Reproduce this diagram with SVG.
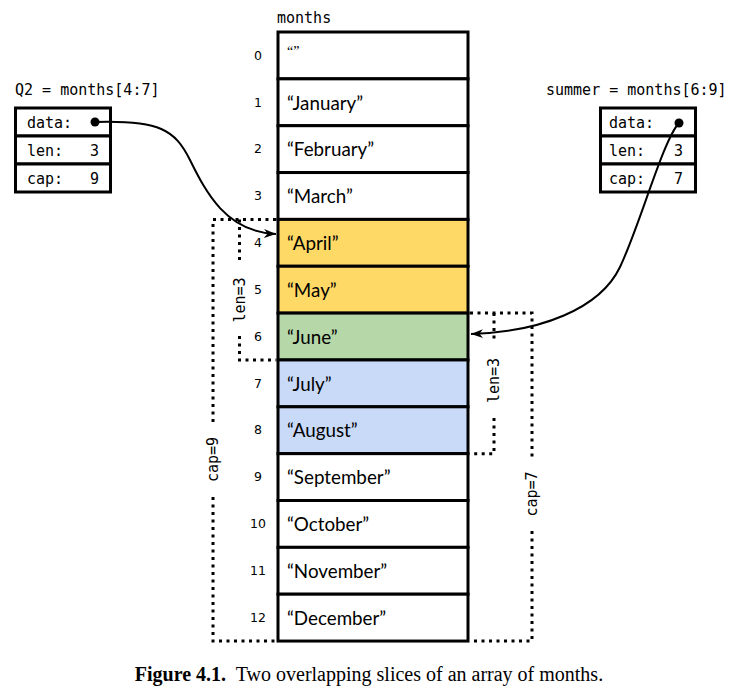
<svg xmlns="http://www.w3.org/2000/svg" width="738" height="693" viewBox="0 0 738 693">
  <style>
    .mono { font-family: "DejaVu Sans Mono", "Liberation Mono", monospace; font-size: 15px; fill: #000; }
    .idx { font-family: "DejaVu Sans", "Liberation Sans", sans-serif; font-size: 12.5px; fill: #000; text-anchor: middle; }
    .val { font-family: Lato, "Open Sans", sans-serif; font-size: 18.8px; fill: #000; }
    .empty { font-family: "Liberation Serif", "Times New Roman", serif; font-size: 14px; fill: #000; }
    .cell { stroke: #000; stroke-width: 3; }
    .plain { fill: #fff; }
    .yellow { fill: #ffd966; }
    .green { fill: #b6d7a8; }
    .blue { fill: #c9daf8; }
    .box { fill: #fff; stroke: #000; stroke-width: 3; }
    .dots { fill: none; stroke: #000; stroke-width: 3; stroke-dasharray: 3 4.5; }
    .wire { fill: none; stroke: #000; stroke-width: 2; }
    .caption { font-family: "Liberation Serif", "Times New Roman", serif; font-size: 20px; fill: #000; }
  </style>
  <defs>
    <marker id="arrow" markerUnits="userSpaceOnUse" markerWidth="14" markerHeight="10" refX="12" refY="5" orient="auto">
      <path d="M0,0.5 L12,5 L0,9.5 L3.5,5 z" fill="#000"/>
    </marker>
  </defs>

  <rect width="738" height="693" fill="#fff"/>

  <!-- array of months -->
  <g id="months">
    <text class="mono" x="277" y="23">months</text>
    <g id="cell-0"><rect class="cell plain" x="278" y="32" width="190" height="46.85"/><text class="idx" x="258" y="59.6">0</text><text class="empty" x="287" y="56">“”</text></g>
    <g id="cell-1"><rect class="cell plain" x="278" y="78.85" width="190" height="46.85"/><text class="idx" x="258" y="106.5">1</text><text class="val" x="287" y="109.5">“January”</text></g>
    <g id="cell-2"><rect class="cell plain" x="278" y="125.7" width="190" height="46.85"/><text class="idx" x="258" y="153.3">2</text><text class="val" x="287" y="156.3">“February”</text></g>
    <g id="cell-3"><rect class="cell plain" x="278" y="172.55" width="190" height="46.85"/><text class="idx" x="258" y="200.2">3</text><text class="val" x="287" y="203.2">“March”</text></g>
    <g id="cell-4"><rect class="cell yellow" x="278" y="219.4" width="190" height="46.85"/><text class="idx" x="258" y="247">4</text><text class="val" x="287" y="250">“April”</text></g>
    <g id="cell-5"><rect class="cell yellow" x="278" y="266.25" width="190" height="46.85"/><text class="idx" x="258" y="293.9">5</text><text class="val" x="287" y="296.9">“May”</text></g>
    <g id="cell-6"><rect class="cell green" x="278" y="313.1" width="190" height="46.85"/><text class="idx" x="258" y="340.7">6</text><text class="val" x="287" y="343.7">“June”</text></g>
    <g id="cell-7"><rect class="cell blue" x="278" y="359.95" width="190" height="46.85"/><text class="idx" x="258" y="387.6">7</text><text class="val" x="287" y="390.6">“July”</text></g>
    <g id="cell-8"><rect class="cell blue" x="278" y="406.8" width="190" height="46.85"/><text class="idx" x="258" y="434.4">8</text><text class="val" x="287" y="437.4">“August”</text></g>
    <g id="cell-9"><rect class="cell plain" x="278" y="453.65" width="190" height="46.85"/><text class="idx" x="258" y="481.3">9</text><text class="val" x="287" y="484.3">“September”</text></g>
    <g id="cell-10"><rect class="cell plain" x="278" y="500.5" width="190" height="46.85"/><text class="idx" x="258" y="528.1">10</text><text class="val" x="287" y="531.1">“October”</text></g>
    <g id="cell-11"><rect class="cell plain" x="278" y="547.35" width="190" height="46.85"/><text class="idx" x="258" y="575">11</text><text class="val" x="287" y="578">“November”</text></g>
    <g id="cell-12"><rect class="cell plain" x="278" y="594.2" width="190" height="46.85"/><text class="idx" x="258" y="621.8">12</text><text class="val" x="287" y="624.8">“December”</text></g>
  </g>

  <!-- slice header Q2 -->
  <g id="q2">
    <text class="mono" x="15" y="95">Q2 = months[4:7]</text>
    <rect class="box" x="15.5" y="108" width="95" height="28"/>
    <rect class="box" x="15.5" y="136" width="95" height="28"/>
    <rect class="box" x="15.5" y="164" width="95" height="28"/>
    <text class="mono" x="27" y="127.5">data:</text>
    <text class="mono" x="27" y="155.5">len:</text>
    <text class="mono" x="99" y="155.5" text-anchor="end">3</text>
    <text class="mono" x="27" y="183.5">cap:</text>
    <text class="mono" x="99" y="183.5" text-anchor="end">9</text>
    <circle cx="95" cy="122" r="4.5" fill="#000"/>
  </g>

  <!-- slice header summer -->
  <g id="summer">
    <text class="mono" x="546" y="95">summer = months[6:9]</text>
    <rect class="box" x="600.5" y="108" width="95" height="28"/>
    <rect class="box" x="600.5" y="136" width="95" height="28"/>
    <rect class="box" x="600.5" y="164" width="95" height="28"/>
    <text class="mono" x="609" y="127.5">data:</text>
    <text class="mono" x="609" y="155.5">len:</text>
    <text class="mono" x="683" y="155.5" text-anchor="end">3</text>
    <text class="mono" x="609" y="183.5">cap:</text>
    <text class="mono" x="683" y="183.5" text-anchor="end">7</text>
    <circle cx="679" cy="123" r="4.5" fill="#000"/>
  </g>

  <!-- len / cap extents -->
  <g id="extents">
    <path class="dots" d="M276,219.4 H213 V422 M213,497 V641 H276"/>
    <path class="dots" d="M239.5,219.4 V262 M239.5,336 V360 H276"/>
    <path class="dots" d="M470,313.1 H532 V457 M532,531 V641 H470"/>
    <path class="dots" d="M494,313.1 V343 M494,418 V453.7 H470"/>
    <text class="mono" transform="translate(244.5,300) rotate(-90)" text-anchor="middle">len=3</text>
    <text class="mono" transform="translate(218,459.5) rotate(-90)" text-anchor="middle">cap=9</text>
    <text class="mono" transform="translate(499,380.5) rotate(-90)" text-anchor="middle">len=3</text>
    <text class="mono" transform="translate(537,494) rotate(-90)" text-anchor="middle">cap=7</text>
  </g>

  <!-- data pointers -->
  <g id="connectors">
    <path class="wire" d="M95,122 C160,120 175,130 190,160 S225,232 276,234" marker-end="url(#arrow)"/>
    <path class="wire" d="M679,123 C663,140 640,225 620,267 S540,332 471,334" marker-end="url(#arrow)"/>
  </g>

  <text class="caption" x="369" y="681" text-anchor="middle"><tspan font-weight="bold">Figure 4.1.</tspan>&#160; Two overlapping slices of an array of months.</text>
</svg>
